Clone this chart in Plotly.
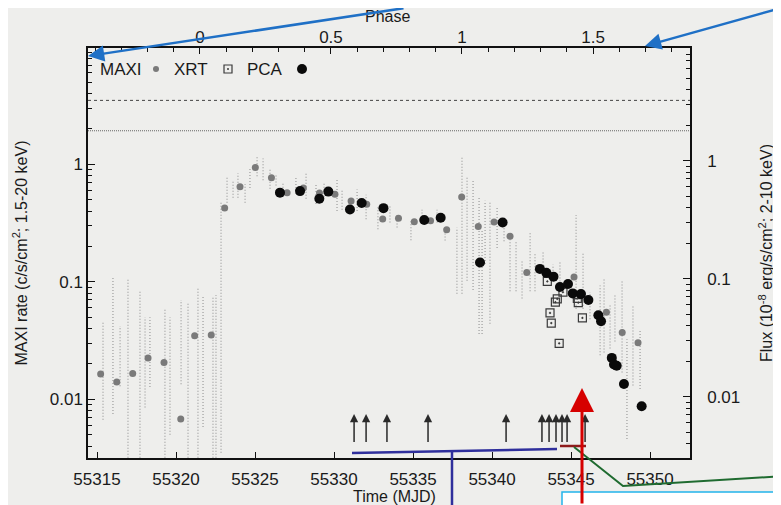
import math
import plotly.graph_objects as go

# ---------------- data ----------------
# MAXI daily averages (left axis, c/s/cm2)
maxi_day_mjd = [55315.23, 55316.25, 55317.26, 55318.23, 55319.24, 55320.30, 55321.18, 55322.23,
                55323.08, 55324.05, 55325.02, 55326.04, 55327.03, 55328.06, 55329.08, 55330.06,
                55331.08, 55332.07, 55333.08, 55334.08, 55335.08, 55336.11, 55337.13, 55338.08,
                55339.13, 55340.13, 55341.14, 55342.20, 55345.19, 55347.24, 55348.24, 55349.24]
maxi_day_rate = [0.0164, 0.0140, 0.0166, 0.0225, 0.0206, 0.0068, 0.0347, 0.0353,
                 0.425, 0.645, 0.937, 0.768, 0.574, 0.627, 0.57, 0.557,
                 0.488, 0.456, 0.342, 0.348, 0.324, 0.330, 0.277, 0.528,
                 0.296, 0.323, 0.244, 0.120, 0.110, 0.055, 0.037, 0.0303]

# MAXI per-scan spread (shown as faint dotted columns)
streak_mjd = [55315.38, 55316.01, 55316.46, 55316.96, 55317.72, 55318.04, 55318.35, 55319.30,
              55319.62, 55320.32, 55320.76, 55321.39, 55321.71, 55322.34, 55322.53, 55322.85,
              55323.23, 55323.61, 55323.92, 55324.37, 55324.68, 55325.13, 55325.51, 55325.95,
              55326.33, 55326.77, 55327.59, 55328.23, 55328.86, 55329.37, 55330.19, 55330.51,
              55331.46, 55332.03, 55332.78, 55333.54, 55333.99, 55334.87, 55335.57, 55336.52,
              55337.03, 55337.78, 55338.10, 55338.42, 55338.80, 55339.18, 55339.37, 55339.56,
              55339.87, 55340.32, 55340.76, 55341.14, 55341.52, 55341.90, 55342.41, 55342.72,
              55343.23, 55343.86, 55344.30, 55345.32, 55345.76, 55346.20, 55346.84, 55347.09,
              55347.47, 55347.78, 55348.23, 55348.54, 55348.92, 55349.37]
streak_lo = [0.0067, 0.0075, 0.0129, 0.003, 0.003, 0.0085, 0.0127, 0.003,
             0.0050, 0.0134, 0.003, 0.003, 0.0058, 0.003, 0.003, 0.0035,
             0.47, 0.52, 0.52, 0.47, 0.63, 0.79, 0.73, 0.62,
             0.66, 0.53, 0.56, 0.51, 0.46, 0.53, 0.40, 0.41,
             0.40, 0.34, 0.28, 0.32, 0.29, 0.226, 0.32, 0.32,
             0.225, 0.079, 0.079, 0.102, 0.085, 0.036, 0.036, 0.142,
             0.044, 0.194, 0.221, 0.083, 0.083, 0.072, 0.083, 0.083,
             0.130, 0.117, 0.095, 0.059, 0.059, 0.048, 0.0237, 0.025,
             0.027, 0.031, 0.0169, 0.0046, 0.0131, 0.0122]
streak_hi = [0.046, 0.111, 0.042, 0.105, 0.085, 0.050, 0.050, 0.060,
             0.050, 0.070, 0.065, 0.090, 0.077, 0.076, 0.077, 0.47,
             0.77, 0.72, 0.84, 0.68, 0.93, 1.19, 1.12, 0.92,
             0.81, 0.69, 0.79, 0.86, 0.68, 0.71, 0.74, 0.61,
             0.61, 0.55, 0.43, 0.45, 0.37, 0.335, 0.41, 0.41,
             0.274, 0.29, 1.14, 0.80, 0.72, 0.52, 0.27, 0.49,
             0.47, 0.44, 0.34, 0.234, 0.221, 0.149, 0.259, 0.175,
             0.182, 0.140, 0.148, 0.37, 0.179, 0.082, 0.093, 0.105,
             0.064, 0.077, 0.104, 0.0324, 0.063, 0.0396]

# Swift/XRT (right axis, 1e-8 erg/s/cm2)
xrt_mjd = [55343.50, 55343.67, 55343.75, 55344.01, 55344.13, 55344.25, 55344.49, 55345.40, 55345.46, 55345.72]
xrt_flux = [0.0948, 0.0512, 0.0420, 0.0632, 0.0673, 0.0283, 0.0768, 0.0681, 0.0626, 0.0465]

# RXTE/PCA (right axis, 1e-8 erg/s/cm2)
pca_mjd = [55326.58, 55327.85, 55329.07, 55329.64, 55331.01, 55331.75, 55333.13, 55335.71, 55336.75,
           55339.24, 55340.67, 55343.03, 55343.44, 55343.89, 55344.30, 55344.81, 55345.11, 55345.63,
           55346.10, 55346.73, 55346.90, 55347.58, 55347.72, 55347.89, 55348.35, 55349.47]
pca_flux = [0.536, 0.552, 0.476, 0.547, 0.386, 0.438, 0.396, 0.314, 0.328,
            0.137, 0.299, 0.121, 0.112, 0.104, 0.085, 0.090, 0.075, 0.074,
            0.066, 0.049, 0.0435, 0.0213, 0.0187, 0.0183, 0.0128, 0.0083]

# observation markers (upward arrows)
arrow_mjd = [55331.27, 55332.03, 55333.35, 55335.95, 55340.89, 55343.16, 55343.61, 55344.05,
             55344.43, 55344.75, 55345.89]
arrow_tip = 0.0075
arrow_base = 0.0042

# reference levels (left axis)
level_dashed = 3.5
level_dotted = 1.93

# ticks
mjd_ticks = [55315, 55320, 55325, 55330, 55335, 55340, 55345, 55350]
phase_ticks = [0, 0.5, 1, 1.5]
phase_labels = ["0", "0.5", "1", "1.5"]
phase_minor = [-0.4, -0.3, -0.2, -0.1, 0.1, 0.2, 0.3, 0.4, 0.6, 0.7, 0.8, 0.9,
               1.1, 1.2, 1.3, 1.4, 1.6, 1.7, 1.8]
log_ticks = [0.01, 0.1, 1]
log_labels = ["0.01", "0.1", "1"]
log_minor = [m * d for d in (0.001, 0.01, 0.1, 1) for m in range(2, 10)] + [10]

# ---------------- figure ----------------
# window pixel layout (page body has an 8px margin)
OFF = 8
W, H = 781 - OFF, 505 - OFF
L, R, T, B = 88, 690, 48, 458          # plot area, in window pixels
FONT = "Liberation Sans, Arial, sans-serif"
INK = "#1a1a1a"
BG = "#eeeeec"


def px(x):
    return (x - L) / (R - L)


def py(y):
    return (B - y) / (B - T)


fig = go.Figure()

sx, sy = [], []
for m, lo, hi in zip(streak_mjd, streak_lo, streak_hi):
    sx += [m, m, None]
    sy += [lo, hi, None]
fig.add_trace(go.Scatter(x=sx, y=sy, mode="lines", line=dict(color="#9c9c9c", width=1.2, dash="1px,2px"),
                         hoverinfo="skip", showlegend=False))

fig.add_trace(go.Scatter(x=maxi_day_mjd, y=maxi_day_rate, mode="markers", name="MAXI",
                         marker=dict(symbol="circle", size=7, color="#7a7a7a"), showlegend=False))
fig.add_trace(go.Scatter(x=xrt_mjd, y=xrt_flux, mode="markers", name="XRT", yaxis="y2",
                         marker=dict(symbol="square-open-dot", size=8, color="#3a3a3a",
                                     line=dict(width=1.2, color="#3a3a3a")), showlegend=False))
fig.add_trace(go.Scatter(x=pca_mjd, y=pca_flux, mode="markers", name="PCA", yaxis="y2",
                         marker=dict(symbol="circle", size=10, color="#0a0a0a"), showlegend=False))
# helper (invisible) trace so the phase axis is drawn
fig.add_trace(go.Scatter(x=phase_ticks, y=[1] * len(phase_ticks), xaxis="x2", mode="markers",
                         marker=dict(opacity=0), hoverinfo="skip", showlegend=False))

shapes = [
    dict(type="line", xref="paper", x0=0, x1=1, yref="y", y0=level_dashed, y1=level_dashed,
         line=dict(color="#444", width=1, dash="3px,3px"), layer="below"),
    dict(type="line", xref="paper", x0=0, x1=1, yref="y", y0=level_dotted, y1=level_dotted,
         line=dict(color="#666", width=1, dash="1px,1px"), layer="below"),
]

annotations = []
for m in arrow_mjd:
    annotations.append(dict(x=m, y=math.log10(arrow_tip), ax=m, ay=math.log10(arrow_base),
                            xref="x", yref="y", axref="x", ayref="y", text="", showarrow=True,
                            arrowhead=2, arrowsize=1.1, arrowwidth=1.5, arrowcolor="#2a2a2a"))

# axis titles for the two x axes, placed as text
annotations.append(dict(x=px(394), y=py(496), xref="paper", yref="paper", text="Time (MJD)",
                        showarrow=False, xanchor="center", yanchor="middle",
                        font=dict(family=FONT, size=16, color=INK)))
annotations.append(dict(x=px(387), y=py(17), xref="paper", yref="paper", text="Phase",
                        showarrow=False, xanchor="center", yanchor="middle",
                        font=dict(family=FONT, size=16, color=INK)))

# legend (text before symbol, as in the original)
ly = py(69)
for txt, x in (("MAXI", 98), ("XRT", 172), ("PCA", 245)):
    annotations.append(dict(x=px(x), y=ly, xref="paper", yref="paper", text=txt, showarrow=False,
                            xanchor="left", yanchor="middle", font=dict(family=FONT, size=17, color=INK)))
shapes += [
    dict(type="circle", xref="paper", yref="paper", xsizemode="pixel", ysizemode="pixel",
         xanchor=px(156), yanchor=ly, x0=-3, x1=3, y0=-3, y1=3, fillcolor="#7a7a7a", line=dict(width=0)),
    dict(type="rect", xref="paper", yref="paper", xsizemode="pixel", ysizemode="pixel",
         xanchor=px(228), yanchor=ly, x0=-4, x1=4, y0=-4, y1=4, fillcolor="rgba(0,0,0,0)",
         line=dict(width=1.2, color="#3a3a3a")),
    dict(type="circle", xref="paper", yref="paper", xsizemode="pixel", ysizemode="pixel",
         xanchor=px(228), yanchor=ly, x0=-1, x1=1, y0=-1, y1=1, fillcolor="#3a3a3a", line=dict(width=0)),
    dict(type="circle", xref="paper", yref="paper", xsizemode="pixel", ysizemode="pixel",
         xanchor=px(302), yanchor=ly, x0=-5, x1=5, y0=-5, y1=5, fillcolor="#0a0a0a", line=dict(width=0)),
]

# hand-drawn overlay marks present on the source picture
NAVY = "#2f2f9c"
shapes += [
    dict(type="line", xref="paper", yref="paper", x0=px(352), y0=py(453), x1=px(557), y1=py(449),
         line=dict(color=NAVY, width=2.5)),
    dict(type="line", xref="paper", yref="paper", x0=px(452), y0=py(450), x1=px(452), y1=py(510),
         line=dict(color=NAVY, width=2.5)),
    dict(type="line", xref="paper", yref="paper", x0=px(560), y0=py(446), x1=px(586), y1=py(446),
         line=dict(color="#8e1b1b", width=2.5)),
    dict(type="path", xref="paper", yref="paper",
         path=f"M {px(574)},{py(447)} L {px(623)},{py(486)} L {px(785)},{py(476)}",
         line=dict(color="#1f6b30", width=2)),
    dict(type="rect", xref="paper", yref="paper", x0=px(562), x1=px(800), y0=py(492), y1=py(520),
         fillcolor="white", line=dict(color="#22b4ea", width=1.5)),
]
annotations += [
    dict(x=px(88), y=py(56), xref="paper", yref="paper", ax=317, ay=-58, text="", showarrow=True,
         arrowhead=2, arrowsize=1.3, arrowwidth=2.5, arrowcolor="#1f70c6"),
    dict(x=px(645), y=py(46), xref="paper", yref="paper", ax=136, ay=-38, text="", showarrow=True,
         arrowhead=2, arrowsize=1.3, arrowwidth=2.5, arrowcolor="#1f70c6"),
    dict(x=px(582), y=py(388), xref="paper", yref="paper", ax=0, ay=120, text="", showarrow=True,
         arrowhead=2, arrowsize=1.6, arrowwidth=3, arrowcolor="#d60000"),
]

axis_common = dict(showgrid=False, zeroline=False, showline=True, linecolor="#111", linewidth=1.5,
                   ticks="inside", tickcolor="#111", automargin=False,
                   tickfont=dict(family=FONT, size=17, color=INK))

fig.update_layout(
    width=W, height=H,
    margin=dict(l=L - OFF, r=(781 - OFF) - (R - OFF), t=T - OFF, b=(505 - OFF) - (B - OFF)),
    paper_bgcolor=BG, plot_bgcolor=BG,
    font=dict(family=FONT, color=INK),
    showlegend=False,
    shapes=shapes,
    annotations=annotations,
    xaxis=dict(**axis_common, range=[55314.43, 55352.53], tickvals=mjd_ticks, ticklen=6,
               tickformat="d", ticklabelstandoff=5),
    xaxis2=dict(**axis_common, overlaying="x", side="top", range=[-0.427, 1.870],
                tickvals=phase_ticks, ticktext=phase_labels, ticklen=6, ticklabelstandoff=-4,
                minor=dict(tickmode="array", tickvals=phase_minor, ticklen=4, ticks="inside", tickcolor="#111")),
    yaxis=dict(**axis_common, type="log", range=[-2.5, 0.99], tickvals=log_ticks, ticktext=log_labels,
               ticklen=7, minor=dict(tickmode="array", tickvals=log_minor, ticklen=4, ticks="inside",
                                     tickcolor="#111"),
               title=dict(text="MAXI rate (c/s/cm<sup>2</sup>; 1.5-20 keV)", font=dict(size=16), standoff=18)),
    yaxis2=dict(**axis_common, type="log", overlaying="y", side="right", range=[-2.52, 0.955],
                tickvals=log_ticks, ticktext=log_labels, ticklen=7, ticklabelstandoff=12,
                minor=dict(tickmode="array", tickvals=log_minor, ticklen=4, ticks="inside", tickcolor="#111"),
                title=dict(text="Flux (10<sup>-8</sup> erg/s/cm<sup>2</sup>; 2-10 keV)", font=dict(size=16),
                           standoff=22)),
)

fig.write_html("out.html")
